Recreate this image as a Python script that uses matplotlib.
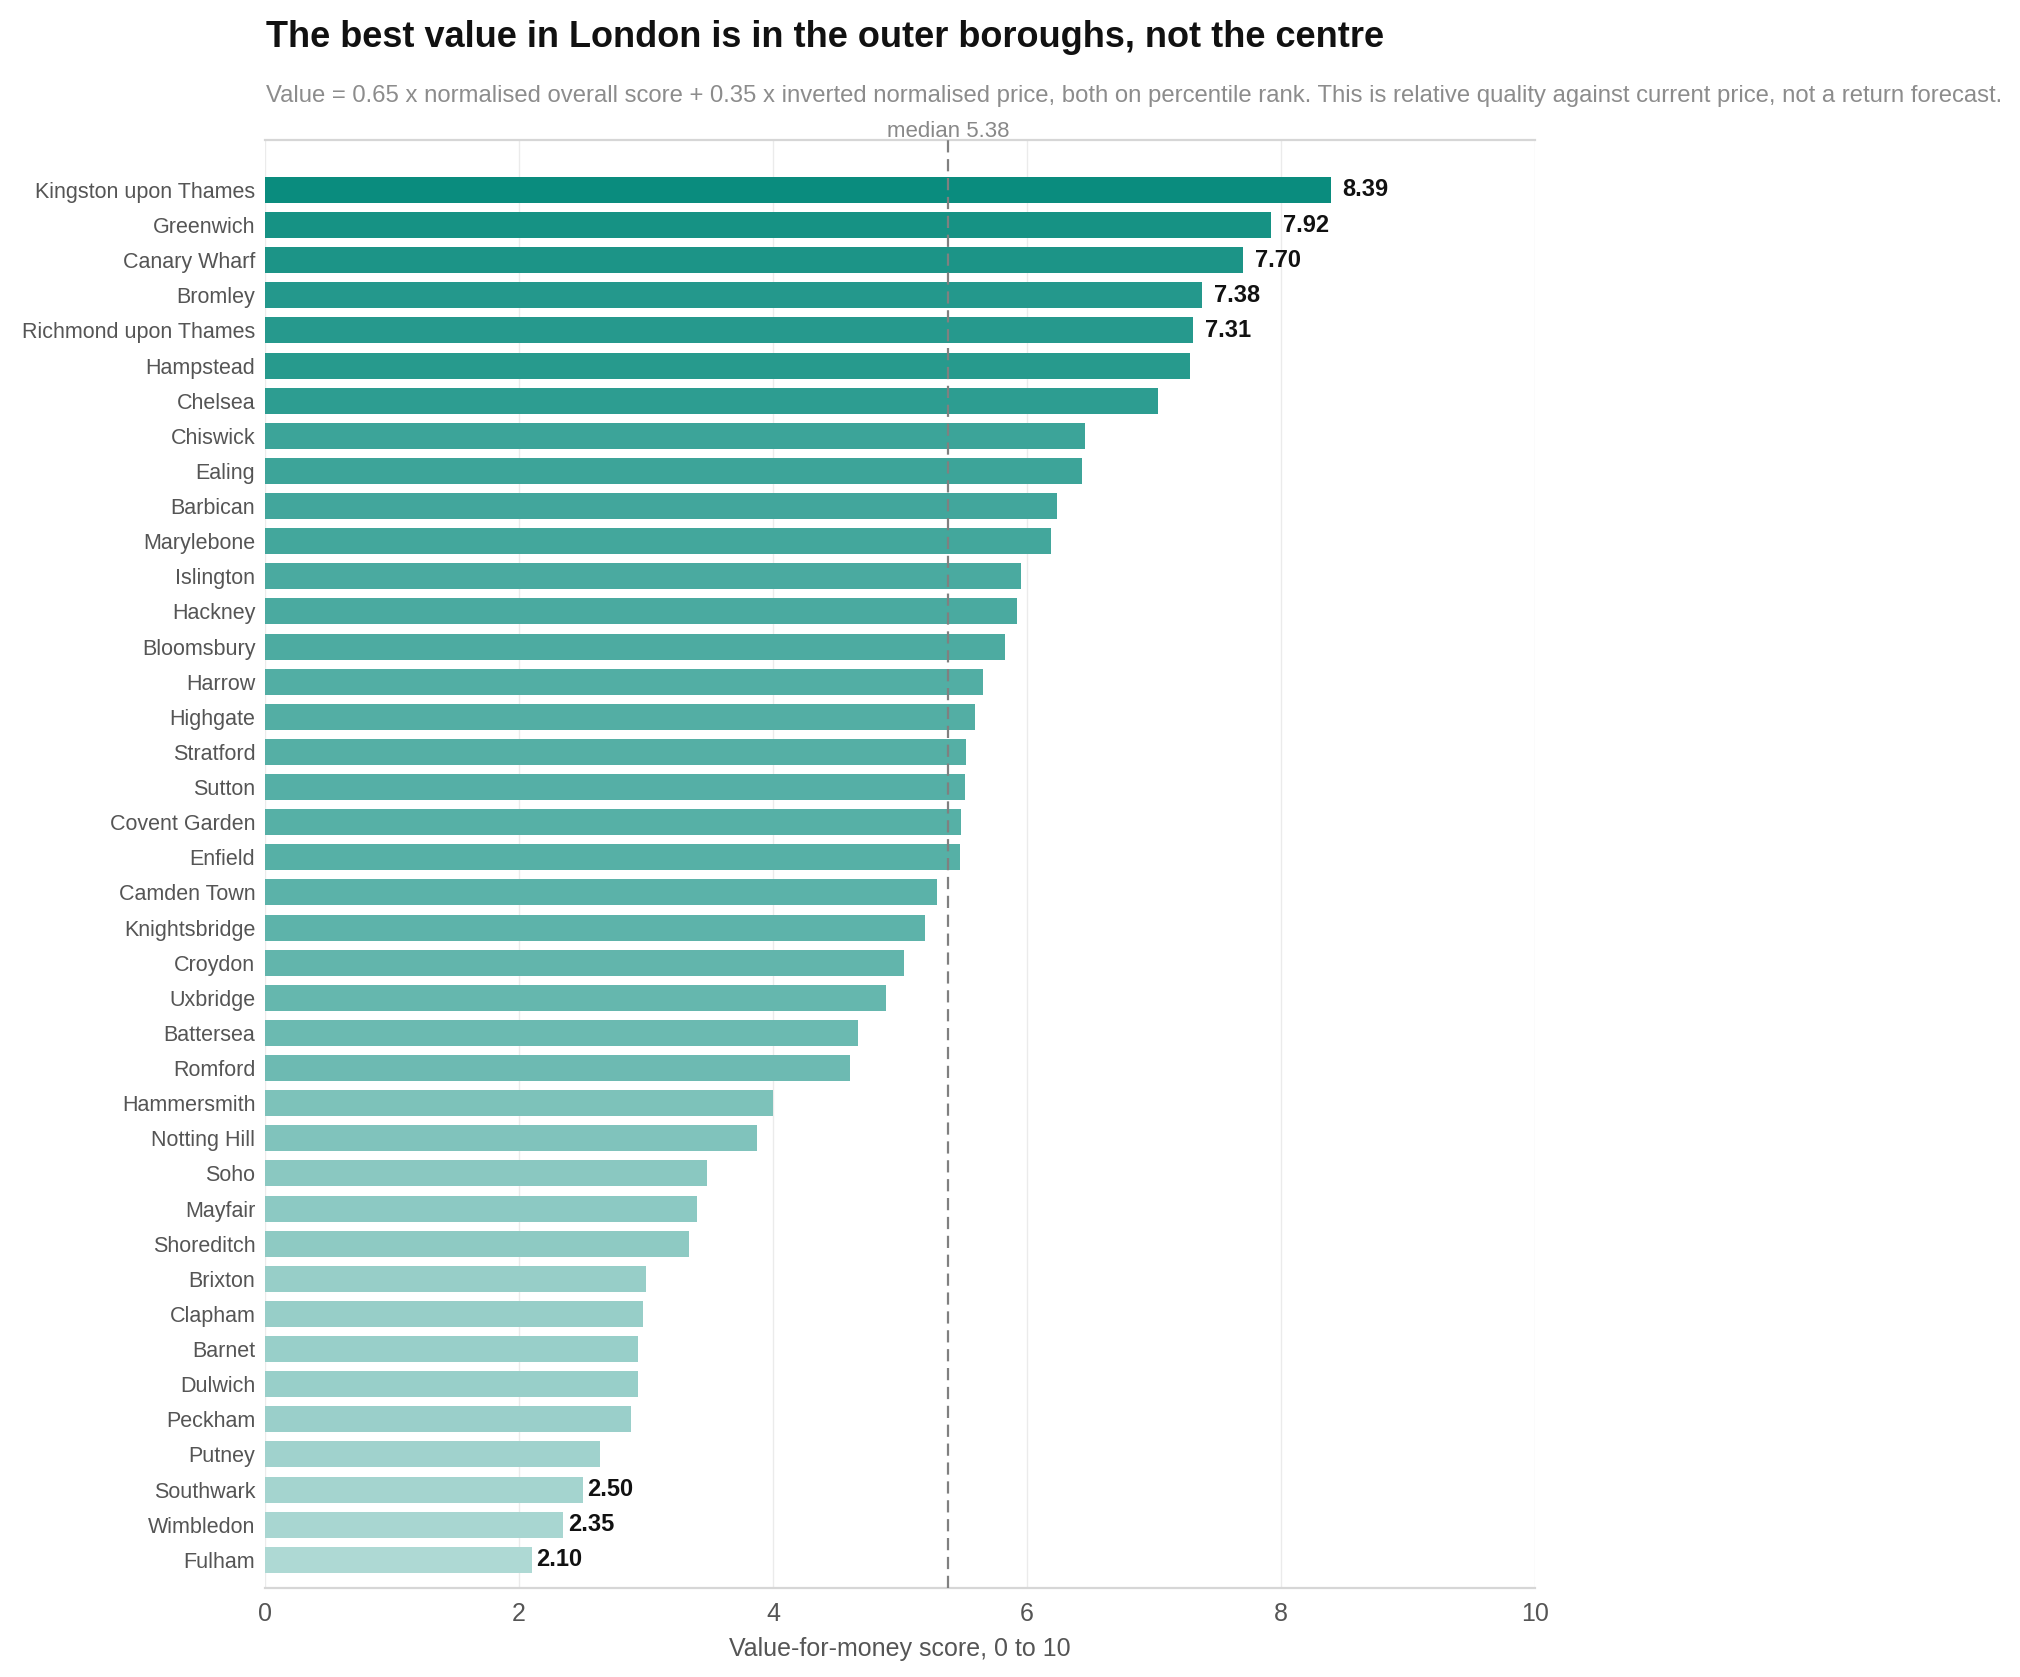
import numpy as np
import matplotlib
matplotlib.use("Agg")
import matplotlib.pyplot as plt
from matplotlib.colors import to_rgb

plt.rcParams['font.family'] = ['Liberation Sans', 'DejaVu Sans']

# data, ranked from best to worst value
areas = ['Kingston upon Thames', 'Greenwich', 'Canary Wharf', 'Bromley',
         'Richmond upon Thames', 'Hampstead', 'Chelsea', 'Chiswick', 'Ealing',
         'Barbican', 'Marylebone', 'Islington', 'Hackney', 'Bloomsbury',
         'Harrow', 'Highgate', 'Stratford', 'Sutton', 'Covent Garden',
         'Enfield', 'Camden Town', 'Knightsbridge', 'Croydon', 'Uxbridge',
         'Battersea', 'Romford', 'Hammersmith', 'Notting Hill', 'Soho',
         'Mayfair', 'Shoreditch', 'Brixton', 'Clapham', 'Barnet', 'Dulwich',
         'Peckham', 'Putney', 'Southwark', 'Wimbledon', 'Fulham']
scores = [8.39, 7.92, 7.70, 7.38, 7.31, 7.28, 7.03, 6.46, 6.43, 6.24,
          6.19, 5.95, 5.92, 5.83, 5.65, 5.59, 5.52, 5.51, 5.48, 5.47,
          5.29, 5.20, 5.03, 4.89, 4.67, 4.61, 4.00, 3.87, 3.48, 3.40,
          3.34, 3.00, 2.98, 2.94, 2.94, 2.88, 2.64, 2.50, 2.35, 2.10]
top_labelled = ['Kingston upon Thames', 'Greenwich', 'Canary Wharf', 'Bromley',
                'Richmond upon Thames']
bottom_labelled = ['Southwark', 'Wimbledon', 'Fulham']

xticks = [0, 2, 4, 6, 8, 10]

scores = np.array(scores)
median = np.median(scores)

# colour: teal fading towards white as the score drops
base = np.array(to_rgb('#0a8c7e'))
t = (scores - scores.min()) / (scores.max() - scores.min())
alpha = 0.33 + 0.67 * t
colors = [tuple(a * base + (1 - a) * np.ones(3)) for a in alpha]

fig = plt.figure(figsize=(20.2, 16.77), dpi=100)
ax = fig.add_axes([0.1312, 0.0531, 0.6287, 0.8634])

y = np.arange(len(areas))
ax.barh(y, scores, height=0.74, color=colors, zorder=3)

ax.set_ylim(39.8, -1.42)
ax.set_xlim(0, 10)
ax.set_xticks(xticks)
ax.set_yticks(y)
ax.set_yticklabels(areas)
ax.tick_params(axis='y', length=0, pad=7, labelsize=15.5, labelcolor='#555555')
ax.tick_params(axis='x', length=0, pad=10, labelsize=18, labelcolor='#555555')
ax.grid(axis='x', color='#ebebeb', linewidth=1.0, zorder=0)
ax.set_axisbelow(True)

for side in ['left', 'right']:
    ax.spines[side].set_visible(False)
for side in ['top', 'bottom']:
    ax.spines[side].set_color('#d6d6d6')
    ax.spines[side].set_linewidth(1.6)

ax.set_xlabel('Value-for-money score, 0 to 10', fontsize=18, color='#555555',
              labelpad=8)

# median line
ax.axvline(median, color='#808080', linewidth=1.6, linestyle=(0, (5.5, 3)),
           zorder=4)
ax.text(median, 1.002, f'median {median:.2f}', transform=ax.get_xaxis_transform(),
        ha='center', va='baseline', fontsize=16, color='#888888')

# value labels on the best and worst few
for name, val, yy in zip(areas, scores, y):
    if name in top_labelled:
        off = 8.5
    elif name in bottom_labelled:
        off = 3
    else:
        continue
    ax.annotate(f'{val:.2f}', xy=(val, yy), xytext=(off, 0),
                textcoords='offset points', ha='left', va='center',
                fontsize=17, fontweight='bold', color='#111111')

fig.text(0.1317, 0.972, 'The best value in London is in the outer boroughs, not the centre',
         fontsize=26, fontweight='bold', color='#111111', ha='left', va='baseline')
fig.text(0.1317, 0.939,
         'Value = 0.65 x normalised overall score + 0.35 x inverted normalised price, '
         'both on percentile rank. This is relative quality against current price, '
         'not a return forecast.',
         fontsize=17.2, color='#8c8c8c', ha='left', va='baseline')

fig.savefig('out.png', dpi=100, facecolor='white')
